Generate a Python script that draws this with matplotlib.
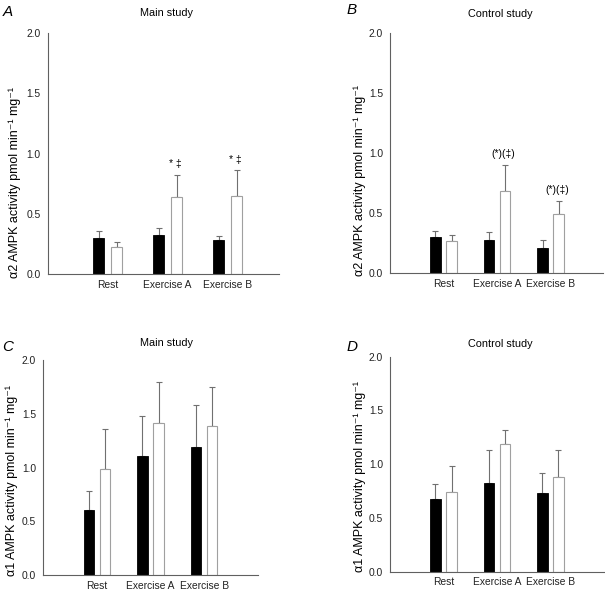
import numpy as np
import matplotlib
matplotlib.use("Agg")
import matplotlib.pyplot as plt

plt.rcParams['font.family'] = ['Liberation Sans', 'DejaVu Sans']

groups = ['Rest', 'Exercise A', 'Exercise B']

# panel A: alpha2, main study
a_black = [0.30, 0.32, 0.28]
a_black_err = [0.057, 0.06, 0.033]
a_white = [0.224, 0.637, 0.647]
a_white_err = [0.04, 0.183, 0.213]
a_marks = ['', '* ‡', '* ‡']

# panel B: alpha2, control study
b_black = [0.297, 0.275, 0.206]
b_black_err = [0.053, 0.065, 0.069]
b_white = [0.267, 0.68, 0.49]
b_white_err = [0.047, 0.22, 0.11]
b_marks = ['', '(*)(‡)', '(*)(‡)']

# panel C: alpha1, main study
c_black = [0.603, 1.106, 1.193]
c_black_err = [0.177, 0.374, 0.387]
c_white = [0.985, 1.414, 1.389]
c_white_err = [0.375, 0.382, 0.361]

# panel D: alpha1, control study
d_black = [0.679, 0.825, 0.729]
d_black_err = [0.134, 0.31, 0.186]
d_white = [0.744, 1.185, 0.878]
d_white_err = [0.236, 0.13, 0.251]

W, H = 605, 593
fig = plt.figure(figsize=(W / 100, H / 100), dpi=100)
FS = 7.4


def px_axes(left, right, top, bottom):
    return fig.add_axes([left / W, 1 - bottom / H, (right - left) / W, (bottom - top) / H])


def panel(box, xmax, black, black_err, white, white_err, title, title_xy, letter, letter_xy,
          ylabel, ylab_xy, marks=None):
    ax = px_axes(*box)
    x = np.arange(1, len(groups) + 1)
    bw = 0.19
    off = 0.15
    ax.bar(x - off, black, bw, color='black', edgecolor='black', lw=0.6, zorder=2)
    ax.bar(x + off, white, bw, color='white', edgecolor='#a0a0a0', lw=0.8, zorder=2)
    ax.errorbar(x - off, black, yerr=[np.zeros(3), black_err], fmt='none', ecolor='#707070',
                elinewidth=0.8, capsize=2.5, capthick=0.8, zorder=1)
    ax.errorbar(x + off, white, yerr=[np.zeros(3), white_err], fmt='none', ecolor='#707070',
                elinewidth=0.8, capsize=2.5, capthick=0.8, zorder=1)
    if marks:
        for xi, m, v, e in zip(x, marks, white, white_err):
            if m:
                ax.text(xi + off - 0.03, v + e + 0.09, m, ha='center', va='center', fontsize=FS)
    ax.set_xlim(0, xmax)
    ax.set_ylim(0, 2.0)
    ax.set_yticks([0, 0.5, 1.0, 1.5, 2.0])
    ax.set_yticklabels(['0.0', '0.5', '1.0', '1.5', '2.0'])
    ax.set_xticks(x)
    ax.set_xticklabels(groups)
    ax.tick_params(axis='both', length=0, labelsize=FS, colors='#222222')
    ax.tick_params(axis='y', pad=5)
    ax.tick_params(axis='x', pad=4)
    for s in ['top', 'right']:
        ax.spines[s].set_visible(False)
    for s in ['left', 'bottom']:
        ax.spines[s].set_color('#606060')
        ax.spines[s].set_linewidth(0.8)
    fig.text(title_xy[0] / W, 1 - title_xy[1] / H, title, ha='center', va='center', fontsize=7.8)
    fig.text(letter_xy[0] / W, 1 - letter_xy[1] / H, letter, ha='center', va='center',
             fontsize=11, style='italic')
    fig.text(ylab_xy[0] / W, 1 - ylab_xy[1] / H, ylabel, ha='center', va='center',
             rotation=90, fontsize=9)
    return ax


lab2 = 'α2 AMPK activity pmol min⁻¹ mg⁻¹'
lab1 = 'α1 AMPK activity pmol min⁻¹ mg⁻¹'

panel((47.7, 279.3, 33, 274), 3.86, a_black, a_black_err, a_white, a_white_err,
      'Main study', (167, 13), 'A', (8, 12), lab2, (15, 183), a_marks)
panel((390, 603, 33, 273), 3.98, b_black, b_black_err, b_white, b_white_err,
      'Control study', (500, 14), 'B', (352, 10), lab2, (360, 180), b_marks)
panel((43, 258, 360.3, 575), 4.0, c_black, c_black_err, c_white, c_white_err,
      'Main study', (167, 343), 'C', (8, 347), lab1, (12, 481))
panel((390, 605, 356.7, 571.7), 4.02, d_black, d_black_err, d_white, d_white_err,
      'Control study', (500, 344), 'D', (352, 347), lab1, (360, 477))

fig.savefig('out.png', dpi=100)
